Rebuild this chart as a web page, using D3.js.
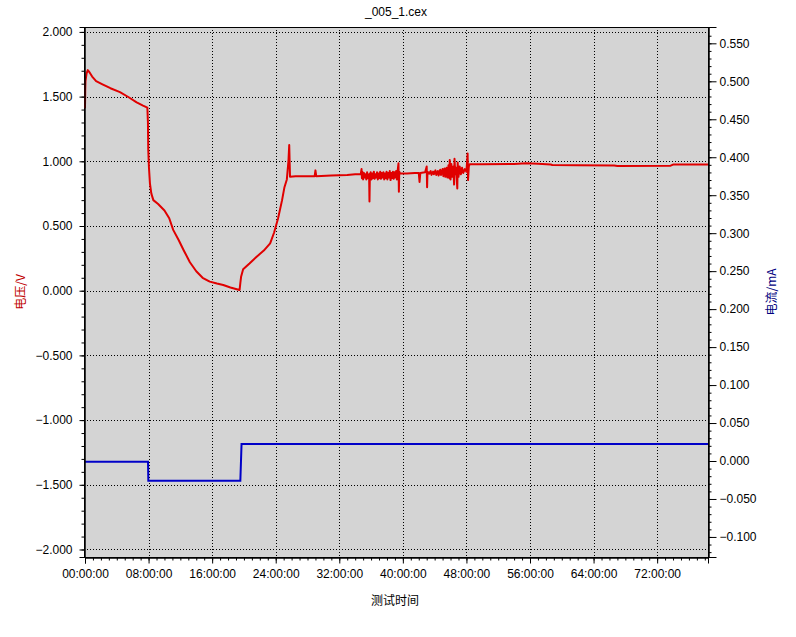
<!DOCTYPE html>
<html>
<head>
<meta charset="utf-8">
<script src="https://cdn.jsdelivr.net/npm/d3@7"></script>
<style>
  body { margin: 0; background: #fff; }
  text { font-family: "Liberation Sans", Arial, sans-serif; }
</style>
</head>
<body>
<svg id="plot"></svg>
<script>
// voltage curve, [hours, volts]
const voltage = [
  [0.0, 1.41], [0.03, 1.55], [0.06, 1.62], [0.2, 1.68], [0.35, 1.705], [0.6, 1.685], [0.9, 1.655],
  [1.4, 1.62], [2.2, 1.595], [3.2, 1.565], [4.4, 1.535], [5.5, 1.495], [6.5, 1.455], [7.3, 1.43],
  [7.85, 1.415], [7.92, 1.30], [7.96, 1.09], [8.05, 0.95], [8.17, 0.83], [8.35, 0.75], [8.6, 0.70],
  [9.2, 0.67], [10.0, 0.62], [10.6, 0.56], [11.1, 0.47], [11.8, 0.39], [12.4, 0.315], [13.2, 0.22],
  [14.0, 0.15], [14.8, 0.10], [15.7, 0.07], [16.6, 0.055], [17.4, 0.044], [18.3, 0.025], [19.1, 0.011],
  [19.45, 0.005], [19.55, 0.06], [19.65, 0.11], [19.9, 0.165], [20.7, 0.21], [21.6, 0.263], [22.5, 0.31],
  [23.3, 0.366], [23.8, 0.45], [24.3, 0.56], [24.8, 0.70], [25.1, 0.80], [25.4, 0.86], [25.6, 1.0],
  [25.7, 1.126], [25.8, 0.88],
  [26.5, 0.885], [28.9, 0.885], [29.0, 0.93], [29.1, 0.885], [31.0, 0.89], [33.0, 0.895], [34.0, 0.90], [34.7, 0.90],
  [34.8, 0.94], [34.85, 0.87], [34.9, 0.92], [35.0, 0.86], [35.1, 0.91], [35.2, 0.875], [35.3, 0.90],
  [35.4, 0.86], [35.5, 0.915], [35.6, 0.87], [35.75, 0.90], [35.8, 0.69], [35.85, 0.89], [35.95, 0.915],
  [36.05, 0.86], [36.15, 0.905], [36.25, 0.87], [36.35, 0.92], [36.45, 0.865], [36.55, 0.90], [36.65, 0.875],
  [36.75, 0.915], [36.85, 0.86], [36.95, 0.905], [37.05, 0.87], [37.15, 0.92], [37.25, 0.865], [37.35, 0.91],
  [37.45, 0.875], [37.55, 0.915], [37.65, 0.86], [37.75, 0.905], [37.85, 0.87], [37.95, 0.92], [38.05, 0.86],
  [38.15, 0.91], [38.25, 0.875], [38.35, 0.925], [38.45, 0.855], [38.55, 0.91], [38.65, 0.87], [38.75, 0.92],
  [38.85, 0.865], [38.95, 0.915], [39.05, 0.875], [39.15, 0.925], [39.25, 0.86], [39.35, 0.93], [39.45, 0.985],
  [39.5, 0.765], [39.55, 0.92], [39.65, 0.905],
  [40.5, 0.905], [41.5, 0.91], [42.0, 0.91], [42.1, 0.84], [42.2, 0.91], [42.8, 0.915], [43.0, 0.96],
  [43.05, 0.80], [43.1, 0.92], [43.3, 0.905], [43.5, 0.925], [43.6, 0.895], [43.8, 0.92], [43.9, 0.90],
  [44.1, 0.93], [44.2, 0.895], [44.4, 0.925], [44.5, 0.89], [44.7, 0.935], [44.8, 0.895], [45.0, 0.94],
  [45.1, 0.885], [45.25, 0.945], [45.35, 0.88], [45.5, 0.95], [45.6, 0.875], [45.75, 0.97], [45.85, 0.87],
  [45.9, 1.01], [46.0, 0.86], [46.1, 0.98], [46.2, 0.88], [46.35, 0.96], [46.45, 0.82], [46.5, 1.02],
  [46.6, 0.90], [46.7, 0.95], [46.85, 0.79], [46.9, 0.99], [47.0, 0.88], [47.15, 0.96], [47.3, 0.90],
  [47.45, 0.95], [47.6, 0.91], [47.8, 0.94], [48.0, 0.92], [48.15, 1.06], [48.2, 0.855], [48.3, 0.96],
  [48.4, 0.977],
  [50.0, 0.978], [54.0, 0.98], [55.5, 0.985], [57.0, 0.982], [58.6, 0.975], [58.8, 0.971], [62.0, 0.97],
  [66.6, 0.968], [67.0, 0.964], [73.7, 0.966], [74.0, 0.975], [78.4, 0.976]
];

// current steps, [hours, mA]
const current = [
  [0, -0.001], [7.93, -0.001], [7.97, -0.026], [19.55, -0.026], [19.7, 0.0224], [78.4, 0.0224]
];

const xTicks = [0, 8, 16, 24, 32, 40, 48, 56, 64, 72];
const leftTicks = [2, 1.5, 1, 0.5, 0, -0.5, -1, -1.5, -2];
const rightTicks = [0.55, 0.5, 0.45, 0.4, 0.35, 0.3, 0.25, 0.2, 0.15, 0.1, 0.05, 0, -0.05, -0.1];

const W = 796, H = 637;
const plot = {left: 84, right: 708, top: 27, bottom: 557};

const svg = d3.select("#plot").attr("width", W).attr("height", H);

const x = d3.scaleLinear().domain([0, 78.4]).range([plot.left + 1, plot.right]);
const yL = d3.scaleLinear().domain([-2.058, 2.038]).range([plot.bottom, plot.top]);
const yR = d3.scaleLinear().domain([-0.1264, 0.5715]).range([plot.bottom, plot.top]);

// background
svg.append("rect")
  .attr("x", plot.left).attr("y", plot.top)
  .attr("width", plot.right - plot.left).attr("height", plot.bottom - plot.top)
  .style("fill", "#d4d4d4");

// grid
const grid = svg.append("g").attr("stroke", "#000").attr("stroke-dasharray", "1,2").attr("stroke-width", 1);
grid.selectAll(".gy").data(leftTicks).enter().append("line")
  .attr("x1", plot.left).attr("x2", plot.right)
  .attr("y1", d => Math.round(yL(d)) + 0.5).attr("y2", d => Math.round(yL(d)) + 0.5);
grid.selectAll(".gx").data(xTicks.filter(d => d > 0)).enter().append("line")
  .attr("y1", plot.top).attr("y2", plot.bottom)
  .attr("x1", d => Math.round(x(d)) + 0.5).attr("x2", d => Math.round(x(d)) + 0.5);

// frame
svg.append("rect")
  .attr("x", plot.left + 0.5).attr("y", plot.top + 0.5)
  .attr("width", plot.right - plot.left).attr("height", plot.bottom - plot.top)
  .style("fill", "none").style("stroke", "#000");

// lines
const lineL = d3.line().x(d => x(d[0])).y(d => yL(d[1]));
const lineR = d3.line().x(d => x(d[0])).y(d => yR(d[1]));

svg.append("path").datum(current)
  .attr("d", lineR)
  .style("fill", "none").style("stroke", "#0000c8").style("stroke-width", 2);

svg.append("path").datum(voltage)
  .attr("d", lineL)
  .style("fill", "none").style("stroke", "#e00000").style("stroke-width", 2)
  .style("stroke-linejoin", "round");

// left axis
const leftAxis = d3.axisLeft(yL).tickValues(leftTicks).tickSize(5).tickPadding(7)
  .tickFormat(d3.format(".3f"));
const gL = svg.append("g").attr("transform", `translate(${plot.left + 0.5},0)`).call(leftAxis);
svg.append("g").attr("transform", `translate(${plot.left + 0.5},0)`)
  .call(d3.axisLeft(yL).tickValues(d3.range(-20, 21).map(d => d / 10)).tickSize(3).tickFormat(""));

// right axis
const rightAxis = d3.axisRight(yR).tickValues(rightTicks).tickSize(8).tickPadding(3)
  .tickFormat(d3.format(".3f"));
const gR = svg.append("g").attr("transform", `translate(${plot.right + 0.5},0)`).call(rightAxis);
svg.append("g").attr("transform", `translate(${plot.right + 0.5},0)`)
  .call(d3.axisRight(yR).tickValues(d3.range(-12, 57).map(d => d / 100)).tickSize(3).tickFormat(""));

// bottom axis
const bottomAxis = d3.axisBottom(x).tickValues(xTicks).tickSize(6).tickPadding(4)
  .tickFormat(d => d3.format("02d")(d) + ":00:00");
const gB = svg.append("g").attr("transform", `translate(0,${plot.bottom + 0.5})`).call(bottomAxis);
svg.append("g").attr("transform", `translate(0,${plot.bottom + 0.5})`)
  .call(d3.axisBottom(x).tickValues(d3.range(0, 79)).tickSize(3).tickFormat(""));

svg.selectAll(".domain").attr("stroke", "#000");
svg.selectAll(".tick line").attr("stroke", "#000");
svg.selectAll(".tick text").style("font-size", "12px").style("fill", "#000")
  .style("font-family", "'Liberation Sans', Arial, sans-serif");
gB.selectAll(".tick text").attr("dy", "0.9em");

// titles
svg.append("text")
  .attr("x", 396).attr("y", 16)
  .style("text-anchor", "middle").style("font-size", "12px")
  .text("_005_1.cex");

svg.append("text")
  .attr("x", 395).attr("y", 605)
  .style("text-anchor", "middle").style("font-size", "12px")
  .style("font-family", "'Noto Sans CJK SC', sans-serif")
  .text("测试时间");

svg.append("text")
  .attr("transform", "translate(25,292) rotate(-90)")
  .style("text-anchor", "middle").style("font-size", "12px")
  .style("font-family", "'Noto Sans CJK SC', sans-serif")
  .style("fill", "#c00000")
  .text("电压/V");

svg.append("text")
  .attr("transform", "translate(776,292) rotate(-90)")
  .style("text-anchor", "middle").style("font-size", "12px")
  .style("font-family", "'Noto Sans CJK SC', sans-serif")
  .style("fill", "#000080")
  .text("电流/mA");
</script>
</body>
</html>
